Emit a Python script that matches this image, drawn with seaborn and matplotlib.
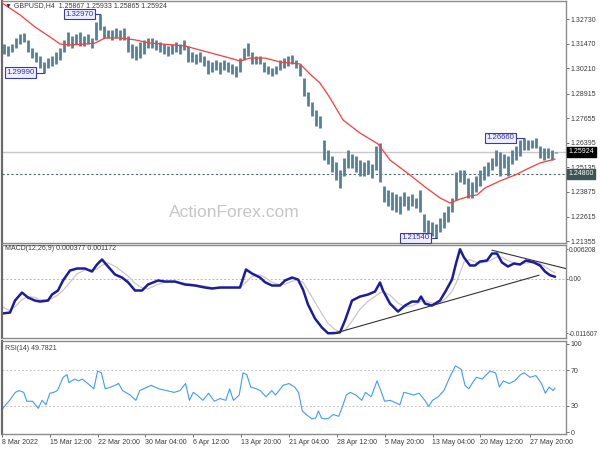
import numpy as np
import pandas as pd
import seaborn as sns
import matplotlib.pyplot as plt

# ---- price data (4H bars) ----
bar_pos = np.arange(4, 557, 4)
bar_high = [1.3145, 1.3135, 1.3145, 1.3176, 1.3196, 1.3201, 1.3166, 1.3125, 1.3104, 1.3084,
            1.3053, 1.3073, 1.3084, 1.3104, 1.3125, 1.3166, 1.3206, 1.3186, 1.3196, 1.3206,
            1.3186, 1.3196, 1.3176, 1.3258, 1.3297, 1.3237, 1.3217, 1.3217, 1.3227, 1.3217,
            1.3227, 1.3186, 1.3145, 1.3135, 1.3155, 1.3166, 1.3176,
            1.3176, 1.3166, 1.3155, 1.3145, 1.3135, 1.3145, 1.3155, 1.3145, 1.3166, 1.3135,
            1.3104, 1.3094, 1.3104, 1.3084, 1.3063, 1.3053, 1.3063, 1.3053, 1.3063, 1.3053,
            1.3043, 1.3032, 1.3073, 1.3125, 1.3150, 1.3104, 1.3084, 1.3084, 1.3053, 1.3032,
            1.3022, 1.3032, 1.3063, 1.3073, 1.3084, 1.3089, 1.3063,
            1.3043, 1.2971, 1.2899, 1.2848, 1.2807, 1.2776, 1.2654, 1.2602, 1.2572, 1.2541,
            1.2500, 1.2561, 1.2602, 1.2582, 1.2572, 1.2551, 1.2541, 1.2551, 1.2531, 1.2623,
            1.2638, 1.2418, 1.2398, 1.2387, 1.2377, 1.2367, 1.2387, 1.2367, 1.2377, 1.2357,
            1.2398, 1.2275, 1.2244, 1.2234, 1.2223, 1.2254, 1.2285, 1.2316,
            1.2357, 1.2490, 1.2500, 1.2500, 1.2459, 1.2438, 1.2469, 1.2500, 1.2520, 1.2541,
            1.2561, 1.2602, 1.2592, 1.2582, 1.2572, 1.2602, 1.2623, 1.2654, 1.2666, 1.2654,
            1.2654, 1.2664, 1.2623, 1.2613, 1.2613, 1.2602, 1.2593]
bar_low = [1.3094, 1.3084, 1.3104, 1.3125, 1.3145, 1.3155, 1.3104, 1.3073, 1.3053, 1.3022,
           1.2999, 1.3022, 1.3032, 1.3043, 1.3063, 1.3104, 1.3135, 1.3125, 1.3145, 1.3135,
           1.3135, 1.3145, 1.3125, 1.3166, 1.3217, 1.3176, 1.3176, 1.3166, 1.3176, 1.3166,
           1.3166, 1.3104, 1.3073, 1.3063, 1.3073, 1.3094, 1.3125,
           1.3125, 1.3114, 1.3104, 1.3094, 1.3084, 1.3094, 1.3104, 1.3094, 1.3114, 1.3053,
           1.3053, 1.3043, 1.3053, 1.3032, 1.2991, 1.3002, 1.3012, 1.2991, 1.3012, 1.3002,
           1.2991, 1.2976, 1.3002, 1.3063, 1.3084, 1.3043, 1.3043, 1.3043, 1.3002, 1.2991,
           1.2981, 1.2991, 1.3012, 1.3022, 1.3032, 1.3043, 1.3022,
           1.2981, 1.2879, 1.2828, 1.2776, 1.2725, 1.2715, 1.2551, 1.2531, 1.2490, 1.2449,
           1.2408, 1.2469, 1.2510, 1.2510, 1.2490, 1.2469, 1.2469, 1.2479, 1.2459, 1.2500,
           1.2438, 1.2336, 1.2316, 1.2295, 1.2285, 1.2275, 1.2316, 1.2295, 1.2316, 1.2305,
           1.2285, 1.2182, 1.2162, 1.2160, 1.2154, 1.2182, 1.2203, 1.2234,
           1.2285, 1.2346, 1.2438, 1.2428, 1.2357, 1.2357, 1.2387, 1.2418, 1.2449, 1.2469,
           1.2500, 1.2520, 1.2469, 1.2510, 1.2469, 1.2531, 1.2551, 1.2572, 1.2602, 1.2602,
           1.2613, 1.2613, 1.2561, 1.2551, 1.2561, 1.2551, 1.2586]

# moving average (red)
ma_pos = [2, 5, 20, 35, 50, 60, 70, 85, 95, 105, 120, 135, 150, 185, 200, 230, 240, 250,
          265, 280, 300, 310, 320, 330, 343, 360, 378, 390, 410, 425, 440, 450, 460, 470,
          477, 485, 500, 515, 525, 540, 555]
ma_val = [1.3355, 1.3345, 1.3294, 1.3232, 1.3181, 1.3145, 1.3140, 1.3145, 1.3150, 1.3176,
          1.3176, 1.3166, 1.3150, 1.3135, 1.3114, 1.3073, 1.3058, 1.3073, 1.3073, 1.3053,
          1.3043, 1.2991, 1.2945, 1.2869, 1.2756, 1.2689, 1.2633, 1.2551, 1.2474, 1.2413,
          1.2357, 1.2331, 1.2351, 1.2367, 1.2372, 1.2408, 1.2444, 1.2474, 1.2500, 1.2536,
          1.2556]

# ---- MACD(12,26,9) ----
macd_pos = [2, 10, 15, 22, 28, 35, 40, 48, 52, 58, 63, 70, 77, 85, 92, 97, 102, 108, 115,
            122, 128, 135, 142, 148, 158, 165, 175, 185, 195, 205, 212, 220, 230, 240, 246,
            252, 260, 265, 272, 280, 285, 292, 298, 303, 308, 315, 322, 328, 335, 340, 345,
            352, 360, 368, 375, 380, 383, 390, 398, 405, 412, 418, 421, 425, 432, 440, 446,
            452, 456, 460, 464, 470, 475, 480, 487, 492, 497, 502, 508, 514, 520, 526, 534,
            540, 545, 550, 555]
macd_val = [-0.00742, -0.00721, -0.00467, -0.00297, -0.00403, -0.00467, -0.00488, -0.00467,
            -0.00339, -0.00254, -0.00042, 0.00170, 0.00212, 0.00212, 0.00148, 0.00297, 0.00403,
            0.00254, 0.00085, 0.00021, -0.00078, -0.00254, -0.00254, -0.00127, -0.00042,
            -0.00064, -0.00064, -0.00127, -0.00148, -0.00191, -0.00212, -0.00191, -0.00191,
            -0.00191, 0.00191, 0.00106, 0.00021, -0.00078, -0.00148, -0.00148, -0.00042,
            0.00021, -0.00021, -0.00233, -0.00551, -0.00848, -0.01039, -0.01160, -0.01155,
            -0.01140, -0.00890, -0.00467, -0.00382, -0.00339, -0.00276, -0.00085, -0.00254,
            -0.00530, -0.00700, -0.00573, -0.00488, -0.00488, -0.00382, -0.00530, -0.00573,
            -0.00467, -0.00254, -0.00021, 0.00318, 0.00620, 0.00445, 0.00276, 0.00276, 0.00360,
            0.00382, 0.00530, 0.00530, 0.00339, 0.00254, 0.00318, 0.00297, 0.00382, 0.00339,
            0.00276, 0.00148, 0.00070, 0.000377]
signal_val = [-0.0060, -0.0068, -0.0060, -0.0045, -0.0038, -0.0040, -0.0045, -0.0045, -0.0042,
              -0.0035, -0.0025, -0.0008, 0.0010, 0.0018, 0.0019, 0.0020, 0.0028, 0.0033, 0.0026,
              0.0015, 0.0005, -0.0010, -0.0020, -0.0022, -0.0012, -0.0008, -0.0007, -0.0010,
              -0.0013, -0.0016, -0.0019, -0.0020, -0.0019, -0.0019, -0.0008, 0.0005, 0.0008,
              0.0002, -0.0008, -0.0013, -0.0012, -0.0006, -0.0002, -0.0008, -0.0025, -0.0050,
              -0.0075, -0.0095, -0.0108, -0.0113, -0.0110, -0.0090, -0.0065, -0.0048, -0.0038,
              -0.0030, -0.0028, -0.0035, -0.0052, -0.0060, -0.0058, -0.0052, -0.0048, -0.0047,
              -0.0052, -0.0052, -0.0042, -0.0027, -0.0010, 0.0012, 0.0035, 0.0040, 0.0035,
              0.0033, 0.0035, 0.0040, 0.0046, 0.0045, 0.0038, 0.0033, 0.0031, 0.0033, 0.0035,
              0.0032, 0.0025, 0.0018, 0.001172]

# ---- RSI(14) ----
rsi_pos = [1.9, 5.7, 9.6, 15.3, 19.1, 23.7, 26.8, 32.5, 38.3, 42.1, 45.9, 49.8, 53.6, 57.4,
           63.1, 67.0, 68.9, 74.6, 78.5, 82.3, 89.9, 93.8, 97.6, 101.4, 105.2, 111.0, 118.6,
           122.5, 130.1, 135.9, 139.7, 143.5, 151.2, 158.8, 166.5, 174.1, 179.9, 185.6, 189.4,
           193.3, 197.1, 202.8, 208.6, 214.3, 220.0, 225.8, 229.6, 233.4, 239.2, 243.0, 246.8,
           250.7, 256.4, 260.2, 266.0, 271.7, 275.5, 283.2, 288.9, 294.7, 298.5, 302.3, 306.2,
           311.9, 315.7, 318.4, 321.5, 325.3, 329.1, 333.0, 338.7, 342.5, 346.3, 350.2, 355.9,
           361.7, 365.5, 371.2, 377.0, 380.8, 384.6, 390.4, 396.1, 399.9, 403.8, 407.6, 413.3,
           419.1, 424.8, 428.6, 432.5, 438.2, 443.9, 449.7, 455.4, 461.2, 465.0, 468.8, 472.6,
           476.5, 482.2, 489.9, 495.6, 499.4, 503.3, 509.0, 514.7, 520.5, 524.3, 530.0, 535.8,
           541.5, 545.3, 549.2, 553.0, 554.9]
rsi_val = [25.5, 31, 36, 45, 47, 45, 35, 35, 27, 36, 31, 44, 45, 47, 62, 65, 56, 60, 58, 60,
           53, 49, 69, 67, 49, 51, 55, 47, 42, 36, 47, 49, 53, 49, 47, 45, 47, 55, 36, 45, 42,
           36, 44, 35, 38, 36, 49, 36, 42, 67, 65, 51, 49, 47, 40, 47, 42, 53, 55, 51, 45, 24,
           20, 15, 16, 24, 16, 15, 16, 20, 18, 29, 42, 45, 42, 36, 45, 40, 58, 47, 35, 36, 33,
           31, 45, 44, 42, 44, 36, 29, 36, 40, 47, 62, 75, 71, 53, 49, 56, 62, 60, 69, 67, 51,
           58, 55, 58, 65, 67, 62, 64, 55, 44, 51, 47, 49.78]

date_pos = [2, 49.8, 97.6, 145.4, 193.3, 241.1, 288.9, 336.8, 384.6, 432.5, 480.3, 530]
date_labels = ["8 Mar 2022", "15 Mar 12:00", "22 Mar 20:00", "30 Mar 04:00", "6 Apr 12:00",
               "13 Apr 20:00", "21 Apr 04:00", "28 Apr 12:00", "5 May 20:00", "13 May 04:00",
               "20 May 12:00", "27 May 20:00"]

price_ticks = [1.32730, 1.31470, 1.30210, 1.28915, 1.27655, 1.26395, 1.25135, 1.23875,
               1.22615, 1.21355]
last_price = 1.25924
support = 1.24800

ma_df = pd.DataFrame({"pos": ma_pos, "ma": ma_val})
macd_df = pd.DataFrame({"pos": macd_pos, "macd": macd_val, "signal": signal_val})
rsi_df = pd.DataFrame({"pos": rsi_pos, "rsi": rsi_val})

sns.set_theme(style="white")
plt.rcParams["font.family"] = ["Liberation Sans", "DejaVu Sans"]

fig = plt.figure(figsize=(6, 4.5), dpi=100)
ax1 = fig.add_axes([2 / 600, 1 - 243 / 450, 564 / 600, 242 / 450])
ax2 = fig.add_axes([2 / 600, 1 - 338 / 450, 564 / 600, 93 / 450])
ax3 = fig.add_axes([2 / 600, 1 - 434 / 450, 564 / 600, 93 / 450])

fs = 5.0
txt = "#3a3a3a"
for ax in (ax1, ax2, ax3):
    ax.set_xlim(2, 566)
    ax.set_facecolor("white")
    for s in ax.spines.values():
        s.set_color("#8c8c8c")
        s.set_linewidth(1.0)
    ax.spines["left"].set_color("#6a6a6a")
    ax.spines["left"].set_linewidth(1.6)
    ax.yaxis.tick_right()
    ax.tick_params(axis="y", which="both", length=2, width=0.6, color="#555555",
                   labelsize=fs, labelcolor=txt, pad=1.5, right=True, left=False)

# main price window
ax1.set_ylim(1.21262, 1.33652)
ax1.axhline(last_price, color="#c8c8c8", lw=1.0, zorder=1)
ax1.axhline(support, color="#4d6b6b", lw=0.8, ls=(0, (2, 2)), zorder=1)
ax1.vlines(bar_pos, bar_low, bar_high, color="#55819a", lw=2.0, zorder=2)
sns.lineplot(data=ma_df, x="pos", y="ma", ax=ax1, color="#ff3c3c", lw=0.9,
             estimator=None, sort=False, zorder=3)
ax1.set_yticks(price_ticks)
ax1.set_yticklabels([f"{v:.5f}" for v in price_ticks])
ax1.set_xticks([])
ax1.set_xlabel("")
ax1.set_ylabel("")

ax1.text(1.004, last_price, f"{last_price:.5f}", transform=ax1.get_yaxis_transform(),
         fontsize=fs, color="white", va="center", ha="left",
         bbox=dict(boxstyle="square,pad=0.25", fc="black", ec="black"))
ax1.text(1.004, support, f"{support:.5f}", transform=ax1.get_yaxis_transform(),
         fontsize=fs, color="white", va="center", ha="left",
         bbox=dict(boxstyle="square,pad=0.25", fc="#3b5454", ec="#3b5454"))

ax1.text(5, 1.3340, "\u25bc GBPUSD,H4  1.25867 1.25933 1.25865 1.25924", fontsize=fs,
         color=txt, va="center", ha="left")
ax1.text(234, 1.2280, "ActionForex.com", fontsize=12.5, color="#c6c6c6",
         ha="center", va="center")

# swing labels: (box left x, price, bar x)
swings = [(64, 1.32970, 100), (5, 1.29990, 44), (400, 1.21540, 437), (485, 1.26660, 524)]
for bx, pv, px in swings:
    ax1.text(bx + 1.5, pv, f"{pv:.5f}", fontsize=5.6, color="#3434a8", va="center", ha="left",
             bbox=dict(boxstyle="square,pad=0.2", fc="#eeeeff", ec="#3a3aa8", lw=0.8),
             zorder=5)
    ax1.plot([bx + 31, px], [pv, pv], color="#3a3aa8", lw=0.8, zorder=4)

# MACD window
ax2.set_ylim(-0.0126, 0.0071)
ax2.axhline(0, color="#b8b8b8", lw=0.7, ls=(0, (2, 2)))
sns.lineplot(data=macd_df, x="pos", y="signal", ax=ax2, color="#c8c8c8", lw=0.9,
             estimator=None, sort=False)
sns.lineplot(data=macd_df, x="pos", y="macd", ax=ax2, color="#1c1c9c", lw=1.8,
             estimator=None, sort=False)
ax2.plot([333, 539], [-0.0117, 0.0007], color="#333333", lw=0.8)
ax2.plot([492, 566], [0.0060, 0.0021], color="#333333", lw=0.8)
ax2.set_yticks([-0.011607, 0.0, 0.006208])
ax2.set_yticklabels(["-0.011607", "0.00", "0.006208"])
ax2.tick_params(axis="y", length=1.5, pad=0.6, labelsize=4.8)
ax2.set_xticks([])
ax2.set_xlabel("")
ax2.set_ylabel("")
ax2.text(5, 0.0063, "MACD(12,26,9) 0.000377 0.001172", fontsize=fs, color=txt,
         va="center", ha="left")

# RSI window
ax3.set_ylim(-2, 103)
ax3.axhline(70, color="#c4c4c4", lw=0.7, ls=(0, (2, 2)))
ax3.axhline(30, color="#c4c4c4", lw=0.7, ls=(0, (2, 2)))
sns.lineplot(data=rsi_df, x="pos", y="rsi", ax=ax3, color="#3f9cff", lw=0.8,
             estimator=None, sort=False)
ax3.set_yticks([0, 30, 70, 100])
ax3.set_yticklabels(["0", "30", "70", "100"])
ax3.set_xticks(date_pos)
ax3.set_xticklabels(date_labels, ha="left")
ax3.tick_params(axis="x", length=2, width=0.6, color="#555555", labelsize=fs,
                labelcolor=txt, pad=1.5, bottom=True)
ax3.set_xlabel("")
ax3.set_ylabel("")
ax3.text(5, 95, "RSI(14) 49.7821", fontsize=fs, color=txt, va="center", ha="left")

fig.savefig("out.png", dpi=100)
